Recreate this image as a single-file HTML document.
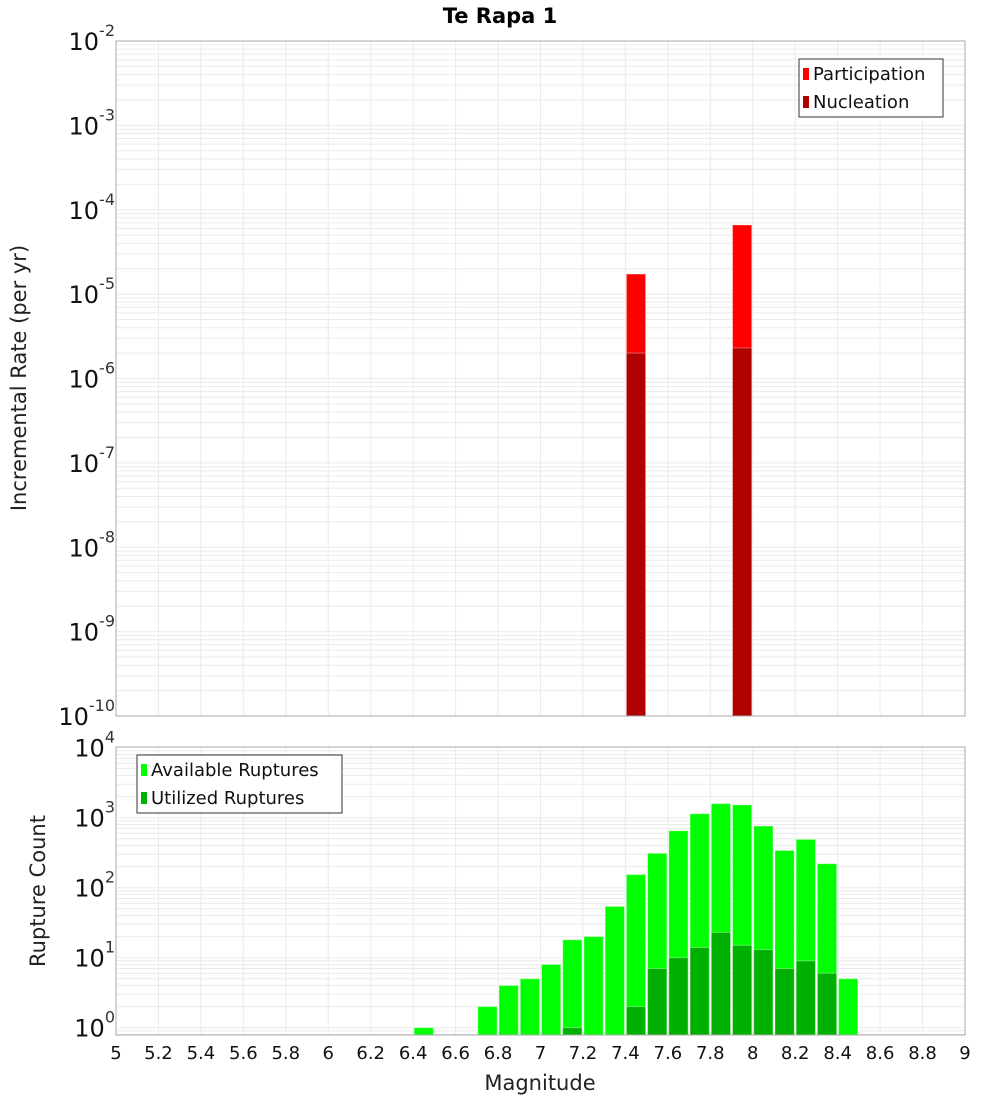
<!DOCTYPE html>
<html><head><meta charset="utf-8"><style>
body{margin:0;background:#fff;}
svg text{font-family:"DejaVu Sans","Liberation Sans",sans-serif;}
</style></head><body>
<svg id="chart" width="1000" height="1100" xmlns="http://www.w3.org/2000/svg">
<text x="500" y="23" text-anchor="middle" font-size="21" font-weight="bold">Te Rapa 1</text>
<g id="top"></g><g id="bot"></g>
<text transform="translate(26,378) rotate(-90)" text-anchor="middle" font-size="21" fill="#222">Incremental Rate (per yr)</text>
<text transform="translate(45,891) rotate(-90)" text-anchor="middle" font-size="21" fill="#222">Rupture Count</text>
<text x="540" y="1090" text-anchor="middle" font-size="21" fill="#222">Magnitude</text>
</svg>
<script>
const topMags=[7.4,7.9];
const participation=[1.73e-5,6.6e-5];
const nucleation=[2.0e-6,2.3e-6];
const botMags=[6.4,6.7,6.8,6.9,7.0,7.1,7.2,7.3,7.4,7.5,7.6,7.7,7.8,7.9,8.0,8.1,8.2,8.3,8.4];
const available=[1,2,4,5,8,18,20,54,154,310,650,1140,1590,1520,760,340,490,220,5];
const utilized=[0,0,0,0,0,1,0,0,2,7,10,14,23,15,13,7,9,6,0];
const xTicks=[5,5.2,5.4,5.6,5.8,6,6.2,6.4,6.6,6.8,7,7.2,7.4,7.6,7.8,8,8.2,8.4,8.6,8.8,9];
const topExps=[-2,-3,-4,-5,-6,-7,-8,-9,-10];
const botExps=[4,3,2,1,0];
const NS="http://www.w3.org/2000/svg";
const X0=116,X1=965;
const xs=m=>X0+(m-5)/4*(X1-X0);
function mk(p,t,a){const e=document.createElementNS(NS,t);for(const k in a)e.setAttribute(k,a[k]);p.appendChild(e);return e;}
function panel(g,top,bottom,ylog,lo,hi){
  for(let d=Math.floor(lo);d<Math.ceil(hi);d++){for(let k=1;k<10;k++){const v=d+Math.log10(k);if(v<lo||v>hi)continue;const y=ylog(v);
    const l=mk(g,'line',{x1:X0,x2:X1,y1:y,y2:y,stroke:'#ebebeb','stroke-width':1});
    
    }}
  xTicks.forEach(t=>{const l=mk(g,'line',{x1:xs(t),x2:xs(t),y1:top,y2:bottom,stroke:'#ebebeb','stroke-width':1});
    
    });
}
function bar(g,m,v,ylog,bottom,fill,name){const y=ylog(Math.log10(v));const r=mk(g,'rect',{x:xs(m)+1,y:y,width:xs(m+0.1)-xs(m)-2,height:bottom-y,fill:fill,stroke:'rgba(255,255,255,0.35)','stroke-width':1});
  
  }
function ylabel(g,e,y,name){const t=mk(g,'text',{x:115,y:y+9,'text-anchor':'end','font-size':24,fill:'#111'});
  
  
  t.innerHTML='10<tspan dy="-14" font-size="16" fill="#333">'+e+'</tspan>';}
const gT=document.getElementById('top');
const T0=41,T1=716;
const yT=v=>T0+(-2-v)*(T1-T0)/8;
panel(gT,T0,T1,yT,-10,-2);
topMags.forEach((m,i)=>{bar(gT,m,participation[i],yT,T1,'#ff0000','participation-bar');bar(gT,m,nucleation[i],yT,T1,'#b00000','nucleation-bar');});
mk(gT,'rect',{x:X0,y:T0,width:X1-X0,height:T1-T0,fill:'none',stroke:'#aaa','stroke-width':1});
topExps.forEach(e=>ylabel(gT,e,yT(e),'top-y-tick-label'));
const gB=document.getElementById('bot');
const B0=747,B1=1035;
const yB=v=>1027.7-v*70;
panel(gB,B0,B1,yB,Math.log10(0.787),4);
botMags.forEach((m,i)=>{bar(gB,m,available[i],yB,B1,'#00ff00','available-bar');if(utilized[i]>0)bar(gB,m,utilized[i],yB,B1,'#00b000','utilized-bar');});
mk(gB,'rect',{x:X0,y:B0,width:X1-X0,height:B1-B0,fill:'none',stroke:'#aaa','stroke-width':1});
botExps.forEach(e=>ylabel(gB,e,yB(e),'bottom-y-tick-label'));
xTicks.forEach(t=>{const s=mk(gB,'text',{x:xs(t),y:1059,'text-anchor':'middle','font-size':18,fill:'#111'});
  
  
  s.textContent=String(t);});
function legend(g,x,y,w,items,name){const lg=mk(g,'g',{});
  
  
  mk(lg,'rect',{x:x,y:y,width:w,height:58,fill:'#fff',stroke:'#333','stroke-width':1});
  items.forEach((it,i)=>{mk(lg,'rect',{x:x+4,y:y+9+i*28,width:6,height:12,fill:it[1]});
    const t=mk(lg,'text',{x:x+14,y:y+21+i*28,'font-size':18,fill:'#111'});
    
    
    t.textContent=it[0];});}
legend(gT,799,59,144,[['Participation','#ff0000'],['Nucleation','#b00000']],'top-legend');
legend(gB,137,755,205,[['Available Ruptures','#00ff00'],['Utilized Ruptures','#00b000']],'bottom-legend');
</script>
</body></html>
